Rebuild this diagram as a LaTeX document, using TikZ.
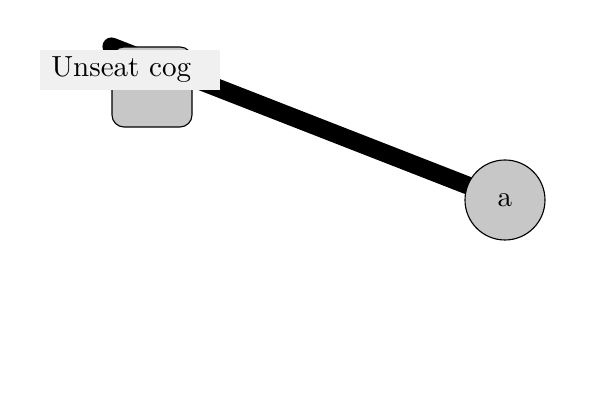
\documentclass[tikz,border=0pt]{standalone}
\usepackage{tikz}
\usepackage{graphicx}
\usetikzlibrary{backgrounds}

\newcommand{\bigtxt}[1]{\scalebox{2.07}{#1}}

\begin{document}
\begin{tikzpicture}[scale=1.0,
    cogbox/.style={draw, line width=0.8pt, fill=black!22, rounded corners=0.3cm, minimum width=2cm, minimum height=2cm},
    cogcircle/.style={draw, line width=0.8pt, fill=black!22, circle, minimum size=2cm},
    taglabel/.style={fill=black!6, anchor=west, text width=3.95cm, align=left, inner xsep=0.275cm, inner ysep=0pt, minimum height=1cm}]
    % Frame
    \useasboundingbox (0,0) rectangle (15,10);

    % Nodes
    \node[cogcircle] (a) at (12.625, 5) {\bigtxt{a}};
    \node[cogbox] (cog) at (3.8, 7.825) {};

    % Thick connector behind the nodes
    \begin{scope}[on background layer]
        \draw[line width=0.45cm, line cap=round] (a) -- (cog.north west);
    \end{scope}

    % Label
    \node[taglabel] (unseat) at (1, 8.25) {\bigtxt{Unseat cog}};
\end{tikzpicture}
\end{document}
